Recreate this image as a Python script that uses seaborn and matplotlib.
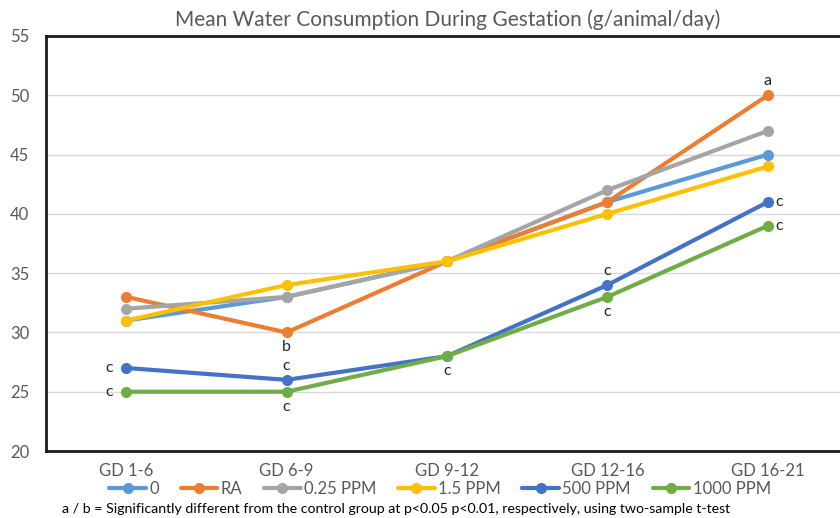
import numpy as np
import pandas as pd
import matplotlib
matplotlib.use("Agg")
import matplotlib.pyplot as plt
import seaborn as sns

periods = ["GD 1-6", "GD 6-9", "GD 9-12", "GD 12-16", "GD 16-21"]
groups = ["0", "RA", "0.25 PPM", "1.5 PPM", "500 PPM", "1000 PPM"]
v_0 = [31, 33, 36, 41, 45]
v_ra = [33, 30, 36, 41, 50]
v_025 = [32, 33, 36, 42, 47]
v_15 = [31, 34, 36, 40, 44]
v_500 = [27, 26, 28, 34, 41]
v_1000 = [25, 25, 28, 33, 39]
colors = ["#5B9BD5", "#ED7D31", "#A5A5A5", "#FFC000", "#4472C4", "#70AD47"]

# significance labels: (group, period index, label, position)
sig = [
    ("RA", 4, "a", "above"),
    ("RA", 1, "b", "below"),
    ("500 PPM", 0, "c", "left"),
    ("1000 PPM", 0, "c", "left"),
    ("500 PPM", 1, "c", "above"),
    ("1000 PPM", 1, "c", "below"),
    ("1000 PPM", 2, "c", "below"),
    ("500 PPM", 3, "c", "above"),
    ("1000 PPM", 3, "c", "below"),
    ("500 PPM", 4, "c", "right"),
    ("1000 PPM", 4, "c", "right"),
]

series = [v_0, v_ra, v_025, v_15, v_500, v_1000]
rows = []
for g, vals in zip(groups, series):
    for i, v in enumerate(vals):
        rows.append({"period": i, "group": g, "value": v})
df = pd.DataFrame(rows)
lookup = {g: vals for g, vals in zip(groups, series)}

sns.set_theme(style="white")
font = ["Lato", "DejaVu Sans"]
plt.rcParams["font.family"] = font

fig = plt.figure(figsize=(8.4, 5.18), dpi=100)
ax = fig.add_axes([46 / 840, (518 - 451) / 518, 802 / 840, 415 / 518])

sns.lineplot(data=df, x="period", y="value", hue="group", hue_order=groups,
             palette=colors, marker="o", markersize=8, markeredgewidth=0,
             linewidth=3, ax=ax, legend=False, zorder=3)

ax.set_xlim(-0.5, 4.5)
ax.set_ylim(20, 55)
ax.set_yticks(np.arange(20, 56, 5))
ax.yaxis.grid(True, color="#D9D9D9", linewidth=1)
ax.set_axisbelow(True)
ax.set_xticks(range(len(periods)))
ax.set_xticklabels(periods)
ax.tick_params(axis="both", length=0, labelsize=12, colors="#595959")
ax.tick_params(axis="x", pad=9)
ax.tick_params(axis="y", pad=12)
ax.set_xlabel("")
ax.set_ylabel("")
for s in ["left", "bottom", "top", "right"]:
    ax.spines[s].set_color("#1a1a1a")
    ax.spines[s].set_linewidth(2)

for g, i, lab, pos in sig:
    y = lookup[g][i]
    off = {"above": (0, 14),
           "below": (0, -15),
           "left": (-17, 0),
           "right": (11, 0)}[pos]
    ax.annotate(lab, (i, y), xytext=off, textcoords="offset pixels",
                ha="center", va="center", fontsize=11.5, color="#262626")

fig.text(448 / 840, 1 - 20 / 518,
         "Mean Water Consumption During Gestation (g/animal/day)",
         ha="center", va="center", fontsize=15, color="#595959")

handles = [plt.Line2D([], [], color=c, linewidth=3, marker="o", markersize=8,
                      markeredgewidth=0) for c in colors]
fig.legend(handles, groups, loc="center", bbox_to_anchor=(440 / 840, 1 - 489 / 518),
           ncol=6, frameon=False, fontsize=12, handlelength=2.2,
           handletextpad=0.2, columnspacing=1.3, labelcolor="#595959")

fig.text(62 / 840, 1 - 509 / 518,
         "a / b = Significantly different from the control group at p<0.05 p<0.01, respectively, using two-sample t-test",
         ha="left", va="center", fontsize=10.2, color="#000000")

fig.savefig("out.png", dpi=100)
